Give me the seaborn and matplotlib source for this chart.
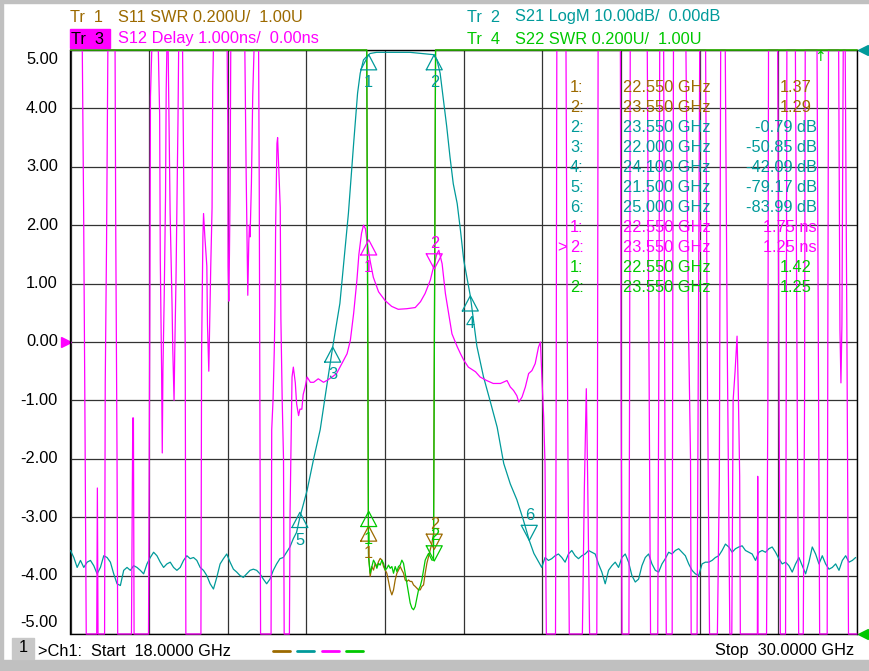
import numpy as np
import pandas as pd
import matplotlib
matplotlib.use("Agg")
import matplotlib.pyplot as plt
import seaborn as sns

sns.set_style("white")
plt.rcParams['font.family'] = ['Liberation Sans', 'DejaVu Sans']

BROWN = '#9c6a00'
TEAL = '#009a9a'
MAGENTA = '#ff00ff'
GREEN = '#00c800'
GRID = '#333333'
FS = 11.8

W, H = 870, 671

# ---- S21 LogM (dB), 10 dB/div, ref 0 dB at top line
s21_left_freq = np.linspace(18.0, 21.5, 70)
s21_left_db = [-85.7, -86.9, -88.6, -87.4, -88.6, -87.7, -87.4, -88.3, -89.7, -88.6,
               -86.6, -86.9, -87.7, -89.7, -91.4, -91.7, -89.1, -88.6, -89.1, -88.3,
               -88.6, -89.1, -89.7, -88.0, -86.9, -86.0, -86.6, -87.7, -88.6, -88.0,
               -87.7, -88.6, -89.1, -88.6, -87.4, -86.6, -87.1, -86.9, -87.4, -88.6,
               -89.1, -90.0, -91.4, -92.3, -90.3, -88.0, -87.1, -86.3, -87.7, -88.9,
               -89.4, -90.0, -90.3, -89.7, -89.1, -88.9, -89.1, -89.7, -90.6, -91.4,
               -90.6, -89.1, -88.0, -87.1, -86.9, -86.0, -85.1, -83.7, -82.6, -80.0]
s21_band_freq = [21.61, 21.71, 21.81, 21.91, 22.00, 22.11, 22.24, 22.32, 22.38, 22.42,
                 22.47, 22.52, 22.57, 22.67, 22.92, 23.18, 23.44, 23.54, 23.59, 23.64,
                 23.69, 23.74, 23.79, 23.84, 23.90, 23.95, 24.00, 24.10, 24.20, 24.30,
                 24.40, 24.51, 24.61, 24.71, 24.81, 24.91, 25.00, 25.07]
s21_band_db = [-75.4, -70.0, -65.0, -57.5, -50.9, -43.4, -28.0, -16.0, -7.4, -4.0,
               -1.7, -1.1, -0.6, -0.4, -0.4, -0.4, -0.7, -0.8, -1.7, -4.0,
               -8.6, -13.1, -18.3, -22.9, -26.3, -30.9, -36.0, -42.1, -50.7, -55.9,
               -60.0, -64.6, -70.8, -74.3, -77.0, -80.5, -84.0, -86.2]
s21_right_freq = np.linspace(25.19, 29.98, 95)
s21_right_db = [-88.6, -86.9, -87.4, -87.1, -86.6, -86.3, -86.9, -87.7, -86.3, -85.7,
                -86.6, -87.1, -86.6, -86.3, -85.7, -86.0, -86.3, -88.0, -89.4, -91.4,
                -89.1, -88.3, -87.7, -88.6, -86.9, -86.3, -87.7, -90.0, -91.1, -90.6,
                -88.3, -86.9, -86.3, -88.0, -89.1, -89.4, -88.0, -87.1, -86.0, -86.3,
                -85.7, -85.4, -86.0, -86.6, -88.0, -89.1, -89.7, -90.0, -88.0, -87.7,
                -87.7, -87.4, -86.9, -86.6, -85.7, -84.6, -85.1, -86.0, -85.4, -85.1,
                -84.9, -85.7, -86.0, -86.3, -87.4, -86.0, -85.7, -86.0, -85.4, -85.1,
                -86.0, -87.1, -88.0, -87.7, -88.3, -89.4, -88.0, -86.9, -88.3, -89.7,
                -87.7, -85.1, -86.3, -88.0, -86.6, -88.0, -88.9, -88.6, -88.0, -89.1,
                -87.4, -86.6, -87.7, -87.4, -86.9]

# ---- S11 / S22 SWR, 0.2 U/div, ref 1.00 U at bottom line (9 = off scale)
swr_band_freq = np.linspace(22.547, 23.539, 40)
s11_band = [1.276, 1.197, 1.231, 1.219, 1.242, 1.231, 1.248, 1.259, 1.253, 1.231,
            1.219, 1.208, 1.180, 1.151, 1.134, 1.151, 1.185, 1.208, 1.219, 1.231,
            1.219, 1.208, 1.185, 1.180, 1.185, 1.180, 1.180, 1.168, 1.163, 1.157,
            1.151, 1.151, 1.163, 1.168, 1.208, 1.242, 1.265, 1.288, 1.310, 1.344]
s22_band = [1.265, 1.208, 1.231, 1.253, 1.242, 1.225, 1.242, 1.236, 1.253, 1.242,
            1.219, 1.225, 1.236, 1.225, 1.231, 1.208, 1.231, 1.214, 1.231, 1.236,
            1.253, 1.242, 1.208, 1.174, 1.140, 1.106, 1.089, 1.083, 1.094, 1.123,
            1.151, 1.163, 1.185, 1.219, 1.253, 1.265, 1.276, 1.265, 1.253, 1.253]
swr_out_freq_lo = [18.0, 22.52]
swr_out_freq_hi = [23.57, 30.0]
swr_off = 9.0

# ---- S12 Delay (ns), 1 ns/div, ref 0 ns at centre (+-9 = off scale)
delay_left_freq = [18.00, 18.18, 18.20, 18.22, 18.24, 18.40, 18.41, 18.42, 18.52, 18.53,
                   18.55, 18.57, 18.68, 18.69, 18.71, 18.72, 18.93, 18.95, 18.96, 18.97,
                   19.19, 19.21, 19.22, 19.24, 19.34, 19.36, 19.37, 19.39, 19.40, 19.41,
                   19.43, 19.45, 19.46, 19.47, 19.49, 19.52, 19.55, 19.56, 19.58, 19.59,
                   19.61, 19.64, 19.65, 19.71, 19.73, 19.75, 19.76, 19.99, 20.00, 20.02,
                   20.03, 20.05, 20.08, 20.09, 20.11, 20.14, 20.16, 20.17, 20.18, 20.39,
                   20.40, 20.405, 20.415, 20.425, 20.435, 20.445, 20.66, 20.68, 20.70, 20.705,
                   20.72, 20.73, 20.74, 20.76, 20.78, 20.80, 20.87, 20.88, 20.89, 20.90,
                   21.06, 21.07, 21.09, 21.11, 21.12, 21.13, 21.15, 21.16, 21.17, 21.20,
                   21.21, 21.23, 21.25, 21.26]
delay_left_ns = [9, 9, 2.3, -1.2, -9, -9, -2.5, -9, -9, -0.7,
                 1.7, 9, 9, 2.0, -2.0, -9, -9, -1.3, -1.3, -9,
                 -9, 0.4, 4.2, 9, 9, 3.9, 1.4, -0.5, -1.9, -0.5,
                 0.8, 2.5, 4.3, 9, 9, 2.2, 0.6, -0.1, -1.0, -0.2,
                 1.1, 3.8, 9, 9, 2.4, -0.1, -9, -9, -0.2, 1.8,
                 2.2, 1.8, 1.3, 0.3, -0.5, 1.3, 2.3, 4.4, 9, 9,
                 3.7, 1.3, 0.7, 1.5, 2.6, 9, 9, 2.9, 1.1, 0.8,
                 1.7, 2.0, 1.8, 2.7, 4.2, 9, 9, 2.6, -1.4, -9,
                 -9, -1.5, -1.0, -0.1, 0.6, 2.0, 3.4, 3.5, 3.2, 2.3,
                 0.4, -1.0, -2.0, -9]
delay_band_freq = [21.34, 21.35, 21.38, 21.40, 21.43, 21.45, 21.48, 21.50, 21.53, 21.55,
                   21.58, 21.61, 21.66, 21.71, 21.78, 21.86, 21.91, 21.99, 22.06, 22.14,
                   22.22, 22.27, 22.32, 22.37, 22.40, 22.44, 22.47, 22.50, 22.52, 22.57,
                   22.62, 22.70, 22.80, 22.90, 23.00, 23.13, 23.26, 23.34, 23.41, 23.49,
                   23.54, 23.59, 23.62, 23.67, 23.72, 23.77, 23.82, 23.90, 23.95, 24.00,
                   24.07, 24.18, 24.25, 24.35, 24.45, 24.56, 24.66, 24.71, 24.76, 24.81,
                   24.84, 24.89, 24.94, 24.99, 25.04, 25.09, 25.14, 25.17, 25.19, 25.22,
                   25.24, 25.26]
delay_band_ns = [-9, -2.9, -0.6, -0.43, -0.7, -1.06, -1.26, -1.15, -1.15, -0.9,
                 -0.77, -0.6, -0.69, -0.69, -0.63, -0.69, -0.66, -0.6, -0.54, -0.37,
                 -0.2, 0.03, 0.49, 1.06, 1.5, 1.86, 2.0, 1.94, 1.75, 1.4,
                 1.11, 0.86, 0.71, 0.61, 0.56, 0.57, 0.59, 0.69, 0.83, 1.06,
                 1.29, 1.51, 1.57, 1.34, 0.83, 0.49, 0.14, -0.08, -0.2, -0.31,
                 -0.43, -0.51, -0.6, -0.66, -0.71, -0.71, -0.66, -0.77, -0.83, -0.92,
                 -1.03, -0.94, -0.77, -0.54, -0.49, -0.37, -0.09, 0.0, -0.55, -1.3,
                 -2.1, -9]
delay_right_freq = [25.40, 25.41, 25.42, 25.56, 25.575, 25.59, 25.61, 25.81, 25.84, 25.87,
                    25.89, 25.92, 26.03, 26.04, 26.05, 26.39, 26.40, 26.415, 26.52, 26.53,
                    26.54, 26.80, 26.83, 26.85, 26.96, 26.975, 26.99, 27.05, 27.07, 27.09,
                    27.18, 27.19, 27.20, 27.39, 27.43, 27.46, 27.47, 27.56, 27.58, 27.60,
                    27.69, 27.72, 27.75, 27.87, 27.90, 27.92, 27.99, 28.02, 28.06, 28.09,
                    28.11, 28.14, 28.17, 28.19, 28.21, 28.22, 28.48, 28.485, 28.49, 28.62,
                    28.64, 28.65, 28.79, 28.81, 28.83, 28.91, 28.92, 28.93, 29.06, 29.09,
                    29.11, 29.18, 29.20, 29.21, 29.39, 29.41, 29.43, 29.545, 29.555, 29.565,
                    29.72, 29.74, 29.755, 29.77, 29.79, 29.82, 29.845, 29.87, 30.0]
delay_right_ns = [-9, -1.0, 9, 9, 1.0, -2.0, -9, -9, -2.5, -0.8,
                  -2.3, -9, -9, -1.5, 9, 9, -0.5, -9, -9, -0.8,
                  9, 9, -1.0, -9, -9, -0.8, 9, 9, -1.8, -9,
                  -9, 1.0, 9, 9, 0.2, -2.0, -9, -9, 0.0, 9,
                  9, -1.0, -9, -9, -2.3, 9, 9, 0.0, -9, -9,
                  -1.0, -0.5, 0.1, -0.9, -2.3, -9, -9, -2.3, -9, -9,
                  -1.0, 9, 9, -0.7, -9, -9, -0.8, 9, 9, -1.5,
                  -9, -9, -1.0, 9, 9, -0.2, -9, -9, 0.0, 9,
                  9, 0.2, -0.7, 0.3, 9, 9, 0.3, -9, -9]

# ---- markers: (number, freq, readout, pointing up?)
mk_s21 = [(1, 22.55, None, True), (2, 23.55, -0.79, True), (3, 22.00, -50.85, True),
          (4, 24.10, -42.09, True), (5, 21.50, -79.17, True), (6, 25.00, -83.99, False)]
mk_s11 = [(1, 22.55, 1.37, True), (2, 23.55, 1.29, False)]
mk_s12 = [(1, 22.55, 1.75, True), (2, 23.55, 1.25, False)]
mk_s22 = [(1, 22.55, 1.42, True), (2, 23.55, 1.25, False)]

table_rows = [("1:", "22.550 GHz", "1.37", BROWN), ("2:", "23.550 GHz", "1.29", BROWN),
              ("2:", "23.550 GHz", "-0.79 dB", TEAL), ("3:", "22.000 GHz", "-50.85 dB", TEAL),
              ("4:", "24.100 GHz", "-42.09 dB", TEAL), ("5:", "21.500 GHz", "-79.17 dB", TEAL),
              ("6:", "25.000 GHz", "-83.99 dB", TEAL), ("1:", "22.550 GHz", "1.75 ns", MAGENTA),
              ("2:", "23.550 GHz", "1.25 ns", MAGENTA), ("1:", "22.550 GHz", "1.42", GREEN),
              ("2:", "23.550 GHz", "1.25", GREEN)]


def to_div(v, per_div, ref, ref_pos):
    return np.clip((np.asarray(v, dtype=float) - ref) / per_div + ref_pos, -5, 5)


def s21_div(v):
    return to_div(v, 10.0, 0.0, 5)


def swr_div(v):
    return to_div(v, 0.2, 1.0, -5)


def dly_div(v):
    return to_div(v, 1.0, 0.0, 0)


s21_f = np.concatenate([s21_left_freq, s21_band_freq, s21_right_freq])
s21_v = np.concatenate([s21_left_db, s21_band_db, s21_right_db])
swr_f = np.concatenate([swr_out_freq_lo, swr_band_freq, swr_out_freq_hi])
s11_v = np.concatenate([[swr_off] * 2, s11_band, [swr_off] * 2])
s22_v = np.concatenate([[swr_off] * 2, s22_band, [swr_off] * 2])
dly_f = np.concatenate([delay_left_freq, delay_band_freq, delay_right_freq])
dly_v = np.concatenate([delay_left_ns, delay_band_ns, delay_right_ns])

traces = pd.concat([
    pd.DataFrame({"f": s21_f, "y": s21_div(s21_v), "tr": "S21"}),
    pd.DataFrame({"f": dly_f, "y": dly_div(dly_v), "tr": "S12"}),
    pd.DataFrame({"f": swr_f, "y": swr_div(s11_v), "tr": "S11"}),
    pd.DataFrame({"f": swr_f, "y": swr_div(s22_v), "tr": "S22"}),
])
colors = {"S11": BROWN, "S21": TEAL, "S12": MAGENTA, "S22": GREEN}

fig = plt.figure(figsize=(W / 100, H / 100), dpi=100)
ax = fig.add_axes([70.5 / W, 1 - 634 / H, 786.5 / W, 584 / H])

for i, name in enumerate(["S21", "S12", "S11", "S22"]):
    d = traces[traces.tr == name]
    sns.lineplot(data=d, x="f", y="y", sort=False, estimator=None, color=colors[name],
                 lw=0.9, ax=ax, clip_on=False, zorder=3 + i, legend=False)

ax.set_xlim(18, 30)
ax.set_ylim(-5, 5)
ax.set_xticks(np.linspace(18, 30, 11))
ax.set_yticks(np.arange(-5, 6))
ax.set_xticklabels([])
ax.set_yticklabels([])
ax.tick_params(length=0)
ax.grid(True, color=GRID, lw=0.9)
ax.set_xlabel("")
ax.set_ylabel("")
for s in ax.spines.values():
    s.set_color("black")
    s.set_linewidth(1.0)

# y labels (top and bottom ones sit inside the frame)
for v in range(-5, 6):
    yy = max(min(v, 4.84), -4.8)
    ax.text(-0.016, yy, f"{v:.2f}", transform=ax.get_yaxis_transform(), ha="right",
            va="center", fontsize=FS, color="black")

# markers
tw, th = 0.122, 0.26


def draw_marker(num, f, val, up, color):
    xs = [f - tw, f, f + tw, f - tw]
    if up:
        ys = [val - th, val, val - th, val - th]
        ly = val - th - 0.22
    else:
        ys = [val + th, val, val + th, val + th]
        ly = val + th + 0.17
    ax.plot(xs, ys, color=color, lw=0.9, zorder=8)
    ax.text(f, ly, str(num), color=color, fontsize=FS, ha="center", va="center", zorder=8)


for num, f, val, up in mk_s21:
    v = np.interp(f, s21_f, s21_v) if val is None else val
    draw_marker(num, f, float(s21_div(v)), up, TEAL)
for num, f, val, up in mk_s12:
    draw_marker(num, f, float(dly_div(val)), up, MAGENTA)
for num, f, val, up in mk_s11:
    draw_marker(num, f, float(swr_div(val)), up, BROWN)
for num, f, val, up in mk_s22:
    draw_marker(num, f, float(swr_div(val)), up, GREEN)

# reference position arrows on the frame
ax.plot([-0.006], [0], marker=">", color=MAGENTA, ms=7, transform=ax.get_yaxis_transform(), clip_on=False)
ax.plot([1.007], [5], marker="<", color=TEAL, ms=7, transform=ax.get_yaxis_transform(), clip_on=False)
ax.plot([1.007], [-5], marker="<", color=GREEN, ms=7, transform=ax.get_yaxis_transform(), clip_on=False)


def px(x, y):
    return x / W, 1 - y / H


# header
fig.text(*px(70, 17), "Tr  1", color=BROWN, fontsize=FS, va="center")
fig.text(*px(118, 17), "S11 SWR 0.200U/  1.00U", color=BROWN, fontsize=FS, va="center")
fig.patches.append(plt.Rectangle(px(70, 48), 40 / W, 19 / H, transform=fig.transFigure,
                                 color=MAGENTA, zorder=1))
fig.text(*px(71, 39), "Tr  3", color="black", fontsize=FS, va="center", zorder=2)
fig.text(*px(118, 39), "S12 Delay 1.000ns/  0.00ns", color=MAGENTA, fontsize=FS, va="center")
fig.text(*px(467, 17), "Tr  2", color=TEAL, fontsize=FS, va="center")
fig.text(*px(515, 17), "S21 LogM 10.00dB/  0.00dB", color=TEAL, fontsize=FS, va="center")
fig.text(*px(467, 39), "Tr  4", color=GREEN, fontsize=FS, va="center")
fig.text(*px(515, 39), "S22 SWR 0.200U/  1.00U", color=GREEN, fontsize=FS, va="center")
fig.text(*px(820, 57), "\u2191", color=GREEN, fontsize=10, ha="center", va="center",
         family=['DejaVu Sans'], zorder=10)

# marker table
for i, (lab, fr, val, col) in enumerate(table_rows):
    yy = 87 + i * 20.1
    fig.text(*px(570, yy), lab, color=col, fontsize=FS, va="center", zorder=9)
    fig.text(*px(623, yy), fr, color=col, fontsize=FS, va="center", zorder=9)
    xr = 817 if (" " in val) else 812
    fig.text(*px(xr, yy), val, color=col, fontsize=FS, va="center", ha="right", zorder=9)
fig.text(*px(557, 87 + 8 * 20.1), ">", color=MAGENTA, fontsize=FS, va="center", zorder=9)

# footer
fig.patches.append(plt.Rectangle(px(12, 659), 22 / W, 21 / H, transform=fig.transFigure,
                                 color="#c8c8c8", zorder=1))
fig.text(*px(23, 648), "1", color="black", fontsize=FS, ha="center", va="center", zorder=2)
fig.text(*px(38, 651), ">Ch1:  Start  18.0000 GHz", color="black", fontsize=FS, va="center")
for k, col in enumerate([BROWN, TEAL, MAGENTA, GREEN]):
    x0 = 273 + k * 24.3
    fig.add_artist(plt.Line2D([x0 / W, (x0 + 17) / W], [1 - 651 / H] * 2, color=col, lw=2,
                              transform=fig.transFigure))
fig.text(*px(854, 651), "Stop  30.0000 GHz", color="black", fontsize=FS, va="center", ha="right")

# window frame
fig.patches.append(plt.Rectangle((0, 0), 1, 11 / H, transform=fig.transFigure,
                                 color="#c0c0c0", zorder=0))
fig.patches.append(plt.Rectangle((0, 1 - 3 / H), 1, 3 / H, transform=fig.transFigure,
                                 color="#c0c0c0", zorder=0))
fig.patches.append(plt.Rectangle((0, 0), 3 / W, 1, transform=fig.transFigure,
                                 color="#c0c0c0", zorder=0))

fig.savefig("out.png", dpi=100)
